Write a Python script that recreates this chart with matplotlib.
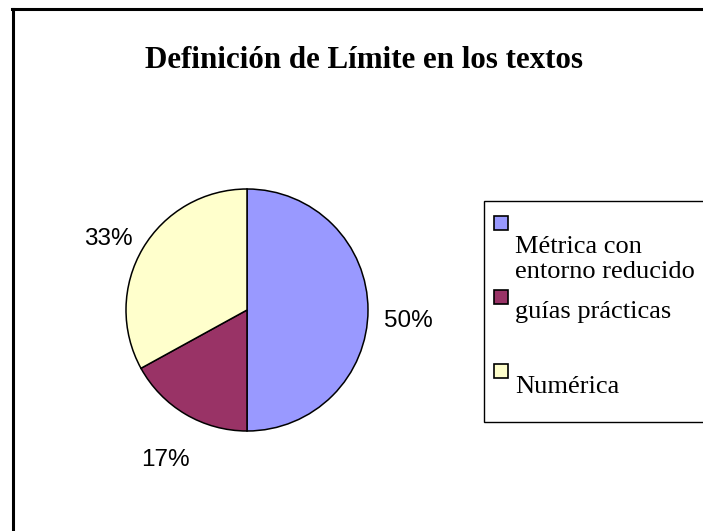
import matplotlib
matplotlib.use("Agg")
import matplotlib.pyplot as plt
from matplotlib.patches import Rectangle
from matplotlib.lines import Line2D

title = "Definición de Límite en los textos"
categories = ["Métrica con\nentorno reducido", "guías prácticas", "Numérica"]
values = [50, 17, 33]
colors = ["#9999FF", "#993366", "#FFFFCC"]

W, H = 703, 531
fig = plt.figure(figsize=(W / 100, H / 100), dpi=100)
fig.patch.set_facecolor("white")

def fx(x):
    return x / W

def fy(y):
    return 1 - y / H

# figure border (top and left visible, extending past the image)
fig.add_artist(Line2D([fx(12), 1.01], [fy(8.5), fy(8.5)], color="black", lw=2.2,
                      transform=fig.transFigure))
fig.add_artist(Line2D([fx(12.5), fx(12.5)], [fy(8.5), -0.01], color="black", lw=2.2,
                      transform=fig.transFigure))

# title
fig.text(fx(364), fy(60), title, ha="center", va="center",
         family="Liberation Serif", fontweight="bold", fontsize=22.3)

# pie
cx, cy, r = 247, 310, 121
ax = fig.add_axes([fx(cx - r), fy(cy + r), 2 * r / W, 2 * r / H])
wedges, texts, autotexts = ax.pie(
    values, colors=colors, startangle=90, counterclock=False,
    autopct=lambda p: f"{p:.0f}%", pctdistance=1.33,
    wedgeprops=dict(edgecolor="black", linewidth=1.1),
    textprops=dict(family="Liberation Sans", fontsize=17.5, color="black"),
)
for t in autotexts:
    t.set_va("top")
ax.set_xlim(-1, 1)
ax.set_ylim(-1, 1)
ax.set_aspect("equal")

# legend box (extends past right edge)
fig.add_artist(Rectangle((fx(484), fy(422)), 1.02 - fx(484), fy(201) - fy(422),
                         transform=fig.transFigure, facecolor="white",
                         edgecolor="black", lw=1.0))
marker_y = [216, 290, 364]
baseline_y = [278, 318, 393]   # baseline of last text line
for c, lab, my, by in zip(colors, categories, marker_y, baseline_y):
    fig.add_artist(Rectangle((fx(494), fy(my + 14)), 14 / W, 14 / H,
                             transform=fig.transFigure, facecolor=c,
                             edgecolor="black", lw=1.2))
    fig.text(fx(515), fy(by), lab, ha="left", va="baseline",
             family="Liberation Serif", fontsize=19, linespacing=1.2)

fig.savefig("out.png", dpi=100, facecolor="white")
